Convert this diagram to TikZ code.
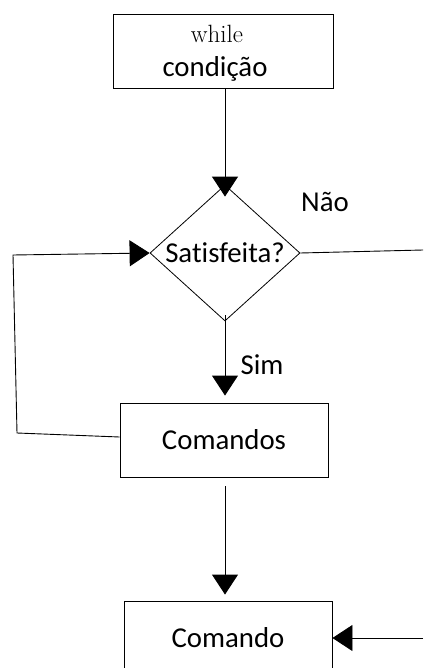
\documentclass[tikz,border=0pt]{standalone}
\usepackage{fontspec}
\setsansfont{Carlito}[Ligatures=NoCommon]
\usetikzlibrary{shapes.geometric, arrows.meta, positioning}

\tikzset{
  stepbox/.style={draw, line width=0.9pt, minimum height=74pt, inner sep=0pt},
  decision/.style={draw, diamond, line width=0.8pt, aspect=1.2, minimum width=150pt, minimum height=136pt, inner sep=0pt},
  flow/.style={line width=0.9pt, -{Triangle[width=26pt, length=20pt]}},
  wire/.style={line width=0.9pt}
}

\begin{document}
\begin{tikzpicture}[font=\sffamily\fontsize{28.8}{34}\selectfont, x=1pt, y=-1pt]
\clip (0,0) rectangle (423,668);
% caixas e decisao
\node[stepbox, minimum width=220pt] (cond) at (223,51) {};
\node[anchor=base, font=\rmfamily\fontsize{25}{30}\selectfont] (whileTxt) at (217,43) {while};
\node[anchor=base] (condTxt) at (215,77) {condição};
\node[decision] (sat) at (225,253) {Satisfeita?};
\node[stepbox, minimum width=208pt] (cmds) at (224,440) {Comandos};
\node[stepbox, minimum width=208pt] (cmd) at (228,638) {Comando};
% rotulos
\node (nao) at (325,202) {Não};
\node (sim) at (262,365) {Sim};
% pontas soltas
\coordinate (naoEnd) at (423,250);
\coordinate (cmdIn) at (423,638);
\coordinate (loopA) at (17,433);
\coordinate (loopB) at (13,255);
% ligacoes
\draw[flow, shorten >=-12pt] (cond.south -| sat.north) -- (sat.north);
\draw[wire] (sat.east) -- (naoEnd);
\draw[flow, shorten <=-6pt, shorten >=7pt] (sat.south) -- (sat.south |- cmds.north);
\draw[flow] ([yshift=3pt]cmds.west) -- (loopA) -- (loopB) -- (sat.west);
\draw[flow, shorten <=9pt, shorten >=6pt] (sat.south |- cmds.south) -- (sat.south |- cmd.north);
\draw[flow] (cmdIn) -- (cmd.east);
\end{tikzpicture}
\end{document}
